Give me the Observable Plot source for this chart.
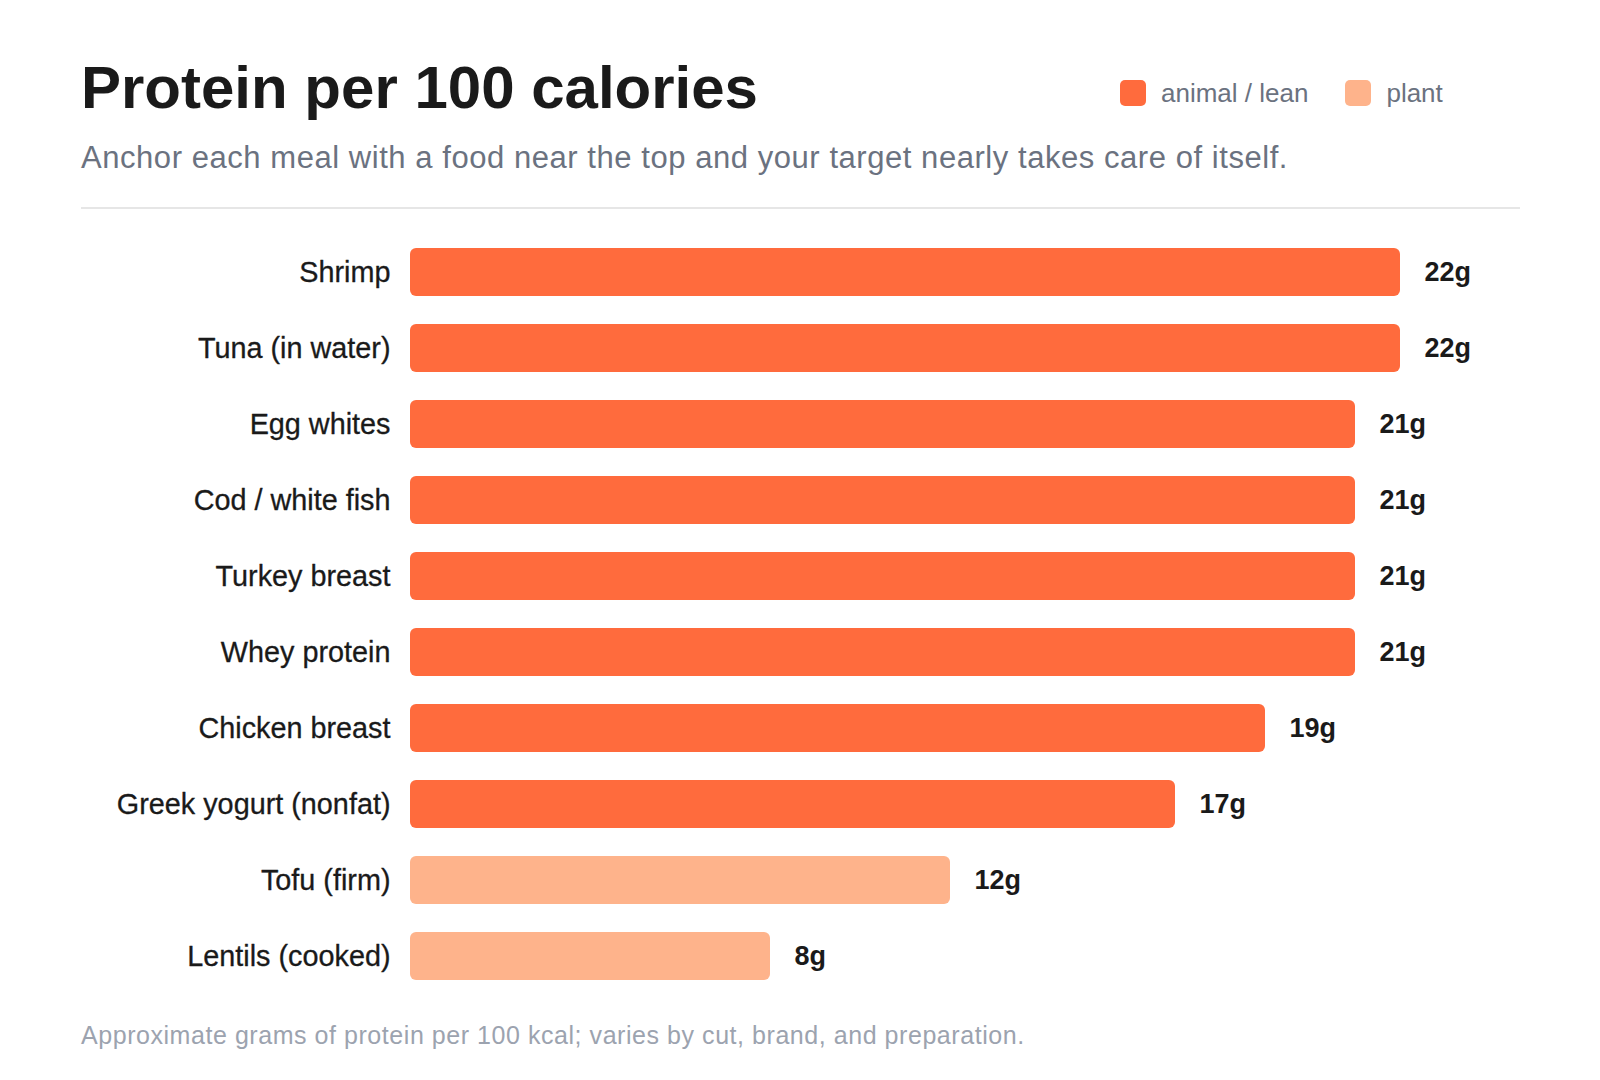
<!DOCTYPE html>
<html>
<head>
<meta charset="utf-8">
<script src="https://cdn.jsdelivr.net/npm/d3@7"></script>
<script src="https://cdn.jsdelivr.net/npm/@observablehq/plot@0.6"></script>
<style>
  html, body { margin: 0; padding: 0; background: #ffffff; }
  body { width: 1600px; height: 1080px; position: relative; font-family: "Liberation Sans", Arial, Helvetica, sans-serif; overflow: hidden; }
  .title { position: absolute; left: 81px; top: 58px; font-size: 60px; line-height: 60px; font-weight: bold; color: #1a1a1a; margin: 0; white-space: nowrap; }
  .subtitle { position: absolute; left: 81px; top: 142px; font-size: 31px; line-height: 31px; letter-spacing: 0.55px; color: #6b7280; white-space: nowrap; }
  .rule { position: absolute; left: 81px; top: 206.5px; width: 1439px; height: 2px; background: #e6e6e6; }
  .legend { position: absolute; left: 1120px; top: 80px; display: flex; align-items: center; font-size: 26px; line-height: 26px; color: #6b7280; white-space: nowrap; }
  .legend .item { display: flex; align-items: center; margin-right: 37px; }
  .legend .swatch { width: 26px; height: 26px; border-radius: 5px; margin-right: 15px; }
  .chart { position: absolute; left: 81px; top: 220px; }
  .footer { position: absolute; left: 81px; top: 1023px; font-size: 25px; line-height: 25px; letter-spacing: 0.55px; color: #9ca3af; white-space: nowrap; }
</style>
</head>
<body>
<div class="title">Protein per 100 calories</div>
<div class="legend" id="legend"></div>
<div class="subtitle">Anchor each meal with a food near the top and your target nearly takes care of itself.</div>
<div class="rule"></div>
<div class="chart" id="chart"></div>
<div class="footer">Approximate grams of protein per 100 kcal; varies by cut, brand, and preparation.</div>
<script>
// Foods, grams of protein per 100 kcal, and source group
const foods = [
  "Shrimp",
  "Tuna (in water)",
  "Egg whites",
  "Cod / white fish",
  "Turkey breast",
  "Whey protein",
  "Chicken breast",
  "Greek yogurt (nonfat)",
  "Tofu (firm)",
  "Lentils (cooked)"
];
const protein = [22, 22, 21, 21, 21, 21, 19, 17, 12, 8];
const groups = ["animal", "animal", "animal", "animal", "animal", "animal", "animal", "animal", "plant", "plant"];

const groupNames = ["animal", "plant"];
const groupLabels = ["animal / lean", "plant"];
const groupColors = ["#ff6b3d", "#feb38b"];

const rows = foods.map((food, i) => ({food, value: protein[i], group: groups[i]}));

// Legend
const legend = document.getElementById("legend");
groupNames.forEach((g, i) => {
  const item = document.createElement("div");
  item.className = "item";
  const sw = document.createElement("span");
  sw.className = "swatch";
  sw.style.background = groupColors[i];
  const label = document.createElement("span");
  label.textContent = groupLabels[i];
  item.appendChild(sw);
  item.appendChild(label);
  legend.appendChild(item);
});

const chart = Plot.plot({
  width: 1439,
  height: 780,
  marginLeft: 329,
  marginRight: 120,
  marginTop: 14,
  marginBottom: 6,
  style: {fontFamily: "Liberation Sans, Arial, sans-serif", color: "#1a1a1a", background: "transparent"},
  x: {domain: [0, 22], range: [329, 1319], axis: null},
  y: {domain: foods, range: [14, 774], paddingInner: 0.368, paddingOuter: 0.184, axis: null},
  color: {domain: groupNames, range: groupColors},
  marks: [
    Plot.barX(rows, {x: "value", y: "food", fill: "group", rx: 6}),
    // value labels past each bar end
    Plot.text(rows, {
      x: "value", y: "food", text: d => `${d.value}g`,
      dx: 24, textAnchor: "start", fontWeight: "bold", fontSize: 27, fill: "#1a1a1a"
    }),
    // food names, right-aligned before the bars
    Plot.text(rows, {
      x: 0, y: "food", text: "food",
      dx: -20, textAnchor: "end", fontSize: 28.8,
      fill: "#1a1a1a", stroke: "#1a1a1a", strokeWidth: 0.3
    })
  ]
});
document.getElementById("chart").appendChild(chart);
</script>
</body>
</html>
